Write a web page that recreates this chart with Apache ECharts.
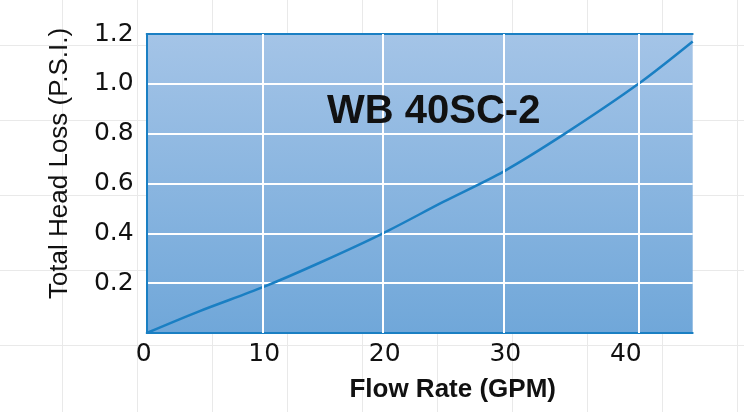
<!DOCTYPE html>
<html>
<head>
<meta charset="utf-8">
<script src="https://cdn.jsdelivr.net/npm/echarts@6/dist/echarts.min.js"></script>
<style>
  html, body { margin: 0; padding: 0; background: #fff; }
  #chart {
    width: 744px;
    height: 412px;
    background-color: #fff;
    background-image:
      linear-gradient(to right, #e9e9e9 1px, transparent 1px),
      linear-gradient(to bottom, #e9e9e9 1px, transparent 1px);
    background-size: 75px 75px;
    background-position: 62px 45px;
  }
</style>
</head>
<body>
<div id="chart"></div>
<script>
// values
var flowRate = [0, 4.4, 9.7, 14.4, 19.6, 24.6, 29.6, 34.7, 40.8, 45.3];
var headLoss = [0, 0.088, 0.185, 0.283, 0.40, 0.526, 0.648, 0.80, 1.00, 1.17];

// the vertical grid lines of the original sheet sit a little off the labels
var flowGrid = [9.65, 19.6, 29.6, 40.8];

var xMax = 45.3;
var yMax = 1.2;

var blue = '#1a7fc3';

var chart = echarts.init(document.getElementById('chart'));

var points = [];
for (var i = 0; i < flowRate.length; i++) {
  points.push([flowRate[i], headLoss[i]]);
}

var gridLineData = [];
for (var j = 0; j < flowGrid.length; j++) {
  gridLineData.push({ xAxis: flowGrid[j] });
}

var option = {
  animation: false,
  title: {
    text: 'WB 40SC-2',
    left: 322,
    top: 87,
    textStyle: {
      fontFamily: 'Liberation Sans',
      fontWeight: 'bold',
      fontSize: 40,
      color: '#111'
    }
  },
  grid: {
    left: 146.7,
    right: 51.3,
    top: 34,
    bottom: 79,
    show: true,
    borderWidth: 0,
    backgroundColor: new echarts.graphic.LinearGradient(0, 0, 0, 1, [
      { offset: 0, color: '#a4c4e7' },
      { offset: 1, color: '#70a7d9' }
    ])
  },
  xAxis: [
    {
      type: 'value',
      min: 0,
      max: xMax,
      interval: 10,
      name: 'Flow Rate (GPM)',
      nameLocation: 'middle',
      nameGap: 44,
      nameTextStyle: {
        fontFamily: 'Liberation Sans',
        fontWeight: 'bold',
        fontSize: 26,
        color: '#111',
        padding: [0, 0, 0, 66]
      },
      axisLine: { show: true, lineStyle: { color: blue, width: 2 } },
      axisTick: { show: false },
      splitLine: { show: false },
      axisLabel: {
        showMaxLabel: false,
        margin: 9,
        fontFamily: 'DejaVu Sans',
        fontSize: 25,
        color: '#111',
        padding: [0, 6, 0, 0]
      }
    },
    {
      type: 'value',
      position: 'top',
      min: 0,
      max: xMax,
      axisLine: { show: true, lineStyle: { color: blue, width: 2 } },
      axisTick: { show: false },
      axisLabel: { show: false },
      splitLine: { show: false }
    }
  ],
  yAxis: {
    type: 'value',
    min: 0,
    max: yMax,
    interval: 0.2,
    name: 'Total Head Loss (P.S.I.)',
    nameLocation: 'middle',
    nameGap: 74,
    nameTextStyle: {
      fontFamily: 'Liberation Sans',
      fontSize: 26,
      color: '#111',
      padding: [0, 0, 0, 40]
    },
    axisLine: { show: true, lineStyle: { color: blue, width: 2 } },
    axisTick: { show: false },
    splitLine: { show: true, lineStyle: { color: '#fff', width: 2 } },
    axisLabel: {
      margin: 13,
      fontFamily: 'DejaVu Sans',
      fontSize: 25,
      color: '#111',
      padding: [0, 0, 5, 0],
      formatter: function (v) {
        return v === 0 ? '' : v.toFixed(1);
      }
    }
  },
  series: [
    {
      // white vertical grid lines
      type: 'line',
      data: [],
      z: 1,
      silent: true,
      markLine: {
        silent: true,
        symbol: 'none',
        label: { show: false },
        lineStyle: { color: '#fff', width: 2, type: 'solid' },
        data: gridLineData
      }
    },
    {
      name: 'WB 40SC-2',
      type: 'line',
      data: points,
      z: 3,
      smooth: 0.3,
      showSymbol: false,
      lineStyle: { color: blue, width: 2.5 }
    }
  ]
};

chart.setOption(option);
</script>
</body>
</html>
